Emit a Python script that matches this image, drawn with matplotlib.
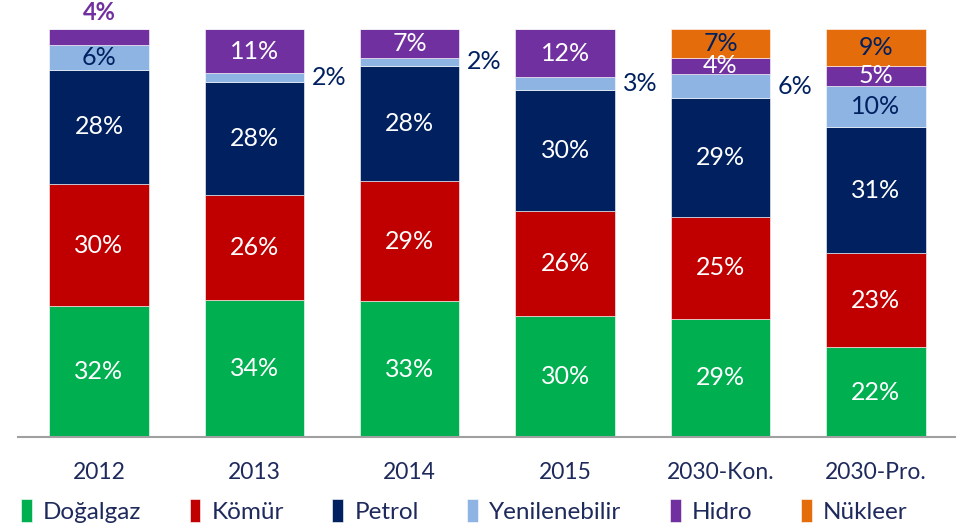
import numpy as np
import matplotlib.pyplot as plt

plt.rcParams['font.family'] = ['Lato', 'DejaVu Sans']

categories = ['2012', '2013', '2014', '2015', '2030-Kon.', '2030-Pro.']
series = ['Doğalgaz', 'Kömür', 'Petrol', 'Yenilenebilir', 'Hidro', 'Nükleer']
values = {
    'Doğalgaz':      [32, 34, 33, 30, 29, 22],
    'Kömür':         [30, 26, 29, 26, 25, 23],
    'Petrol':        [28, 28, 28, 30, 29, 31],
    'Yenilenebilir': [6, 2, 2, 3, 6, 10],
    'Hidro':         [4, 11, 7, 12, 4, 5],
    'Nükleer':       [0, 0, 0, 0, 7, 9],
}
colors = ['#00B050', '#C00000', '#002060', '#8EB4E3', '#7030A0', '#E46C0A']
label_colors = ['white', 'white', 'white', '#002060', 'white', '#002060']
navy = '#002060'

fig = plt.figure(figsize=(9.57, 5.26), dpi=100)
ax = fig.add_axes([0.019, 1 - 437 / 526, 0.979, (437 - 29) / 526])

x = np.arange(len(categories))
data = np.array([values[s] for s in series], dtype=float)
shares = data / data.sum(axis=0) * 100
bottom = np.zeros(len(categories))
width = 0.64

for i, s in enumerate(series):
    ax.bar(x, shares[i], width, bottom=bottom, color=colors[i],
           edgecolor='white', linewidth=0.4, label=s)
    for j in range(len(categories)):
        v = data[i, j]
        if v == 0:
            continue
        mid = bottom[j] + shares[i, j] / 2
        txt = f'{int(v)}%'
        if s == 'Hidro' and j == 0:
            # small slice: label sits above the bar
            ax.text(x[j], 100 + 4, txt, ha='center', va='center',
                    color='#7030A0', fontsize=17, fontweight='bold')
        elif s == 'Yenilenebilir' and v < 7 and j > 0:
            ax.text(x[j] + width / 2 + 0.05, mid, txt, ha='left', va='center',
                    color=navy, fontsize=18)
        else:
            ax.text(x[j], mid, txt, ha='center', va='center',
                    color=label_colors[i], fontsize=18)
    bottom += shares[i]

ax.set_xlim(-0.52, 5.51)
ax.set_ylim(0, 100)
ax.set_yticks([])
ax.set_xticks(x)
ax.set_xticklabels(categories, fontsize=16.5, color='#1F2A5C')
ax.tick_params(axis='x', length=0, pad=18)
for sp in ['top', 'right', 'left']:
    ax.spines[sp].set_visible(False)
ax.spines['bottom'].set_color('#A0A0A0')
ax.spines['bottom'].set_linewidth(1.5)

handles, labels = ax.get_legend_handles_labels()
fig.legend(handles, labels, loc='lower center', bbox_to_anchor=(0.485, -0.035),
           ncol=6, frameon=False, fontsize=17.5, handlelength=0.45,
           handleheight=1.1, handletextpad=0.45, columnspacing=2.0,
           labelcolor='#1F2A5C')

fig.savefig('out.png', dpi=100)
